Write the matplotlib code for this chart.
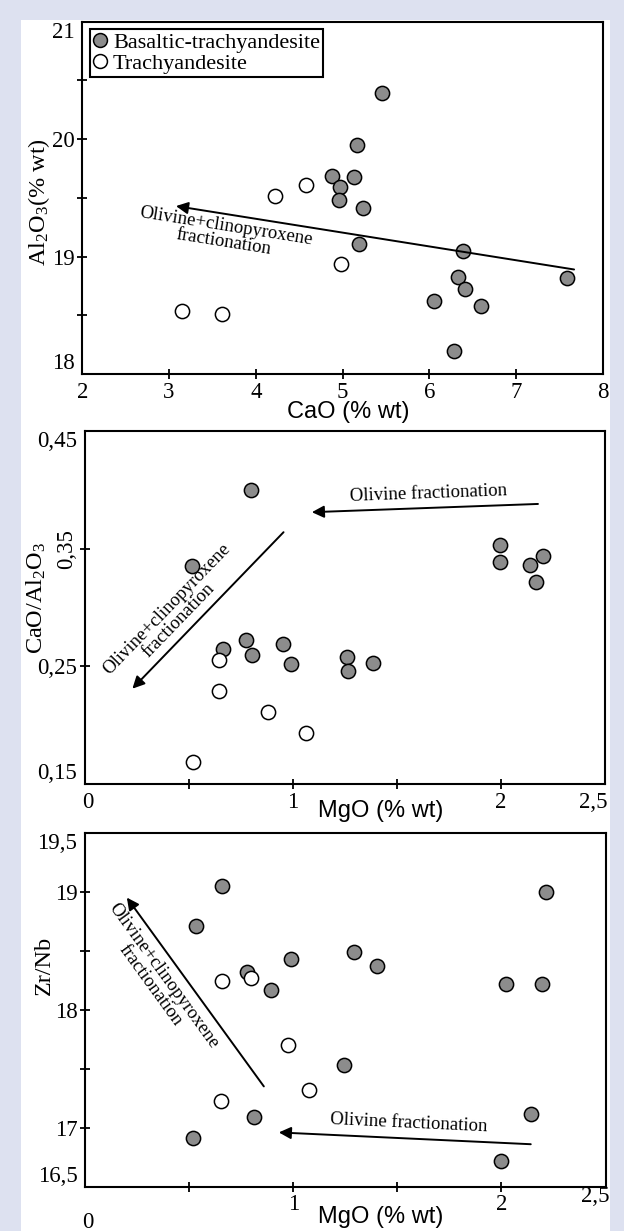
import numpy as np
import matplotlib
matplotlib.use("Agg")
import matplotlib.pyplot as plt
from matplotlib.patches import Rectangle
from matplotlib.lines import Line2D

plt.rcParams["font.family"] = ["Liberation Serif", "DejaVu Serif"]
plt.rcParams["mathtext.default"] = "regular"

# --- data ---
# CaO vs Al2O3
cao_basalt = [5.45, 5.17, 4.88, 5.13, 4.97, 4.96, 5.24, 5.19, 6.39, 6.33, 6.41, 6.06, 6.60, 6.29, 7.59]
al2o3_basalt = [20.39, 19.95, 19.69, 19.68, 19.59, 19.48, 19.41, 19.11, 19.05, 18.83, 18.72, 18.62, 18.58, 18.20, 18.82]
cao_trachy = [4.22, 4.58, 4.98, 3.15, 3.61]
al2o3_trachy = [19.52, 19.61, 18.94, 18.54, 18.51]

# MgO vs CaO/Al2O3
mgo_basalt_2 = [0.80, 0.515, 0.663, 0.774, 0.803, 0.954, 0.992, 1.259, 1.266, 1.387, 1.994, 1.998, 2.14, 2.20, 2.17]
ratio_basalt = [0.400, 0.335, 0.265, 0.272, 0.260, 0.269, 0.252, 0.258, 0.246, 0.253, 0.353, 0.339, 0.336, 0.344, 0.322]
mgo_trachy_2 = [0.644, 0.644, 0.883, 1.065, 0.521]
ratio_trachy = [0.255, 0.229, 0.211, 0.193, 0.169]

# MgO vs Zr/Nb
mgo_basalt_3 = [0.656, 0.533, 0.990, 1.291, 1.403, 0.776, 0.891, 1.245, 0.811, 0.520, 2.216, 2.021, 2.197, 2.141, 1.996]
zrnb_basalt = [19.05, 18.71, 18.43, 18.49, 18.37, 18.32, 18.17, 17.53, 17.09, 16.91, 19.00, 18.22, 18.22, 17.12, 16.72]
mgo_trachy_3 = [0.660, 0.799, 0.977, 1.076, 0.652]
zrnb_trachy = [18.24, 18.27, 17.70, 17.32, 17.23]

legend_labels = ["Basaltic-trachyandesite", "Trachyandesite"]
trend_ol_cpx = "Olivine+clinopyroxene\nfractionation"
trend_ol = "Olivine fractionation"

W, H = 624, 1231
GREY = "#8c8c8c"
TICK_FS = 16.5


def fx(px):
    return px / W


def fy(py):
    return 1 - py / H


fig = plt.figure(figsize=(W / 100, H / 100), dpi=100, facecolor="#dde1f0")
fig.patches.append(Rectangle((fx(21), 0), fx(610) - fx(21), fy(20), transform=fig.transFigure,
                             facecolor="white", edgecolor="none", zorder=-5))


def make_ax(left, top, right, bottom):
    ax = fig.add_axes([fx(left), fy(bottom), (right - left) / W, (bottom - top) / H])
    ax.set_facecolor("none")
    for s in ax.spines.values():
        s.set_linewidth(1.5)
    ax.tick_params(direction="inout", length=7, width=1.3, labelsize=TICK_FS, pad=2)
    return ax


def points(ax, xb, yb, xt, yt):
    ax.scatter(xb, yb, s=105, c=GREY, edgecolors="black", linewidths=1.1, zorder=3)
    ax.scatter(xt, yt, s=105, c="white", edgecolors="black", linewidths=1.1, zorder=3)


def trend(ax, tail, head, label, pos):
    ax.annotate("", xy=head, xytext=tail,
                arrowprops=dict(arrowstyle="-|>", color="black", lw=1.4,
                                mutation_scale=18, shrinkA=0, shrinkB=0))
    a = ax.transData.transform([head, tail])
    d = a[1] - a[0]
    rot = np.degrees(np.arctan2(d[1], d[0]))
    ax.text(pos[0], pos[1], label, rotation=rot, rotation_mode="anchor", ha="center", va="center",
            fontsize=13.5, linespacing=0.95, multialignment="center")


def fix_corners(ax, xfirst=True, xlast=True, yfirst=True, ylast=True):
    xt = ax.xaxis.get_major_ticks()
    yt = ax.yaxis.get_major_ticks()
    if xfirst:
        xt[0].tick1line.set_visible(False)
    if xlast:
        xt[-1].tick1line.set_visible(False)
    if yfirst:
        yt[0].tick1line.set_visible(False)
    if ylast:
        yt[-1].tick1line.set_visible(False)
    labs = ax.get_yticklabels()
    labs[0].set_va("bottom")
    labs[-1].set_va("top")


# ---- top: CaO vs Al2O3 ----
ax1 = make_ax(82.3, 21.7, 602.7, 374)
ax1.set_xlim(2, 8)
ax1.set_ylim(18, 21)
ax1.set_xticks(range(2, 9))
ax1.set_xticklabels([str(v) for v in range(2, 9)])
ax1.set_yticks(np.arange(18, 21.01, 0.5))
ax1.set_yticklabels(["18", "", "19", "", "20", "", "21"])
fix_corners(ax1)
points(ax1, cao_basalt, al2o3_basalt, cao_trachy, al2o3_trachy)
trend(ax1, (7.67, 18.89), (3.08, 19.43), trend_ol_cpx, (3.64, 19.19))
handles = [Line2D([], [], marker="o", ls="none", ms=10, mfc=GREY, mec="black", mew=1.1),
           Line2D([], [], marker="o", ls="none", ms=10, mfc="white", mec="black", mew=1.1)]
leg = ax1.legend(handles, legend_labels, loc="upper left", bbox_to_anchor=(0, 1), borderaxespad=0.33,
                 fancybox=False, framealpha=1, edgecolor="black", fontsize=16, handlelength=0.65,
                 handletextpad=0.25, labelspacing=0.02, borderpad=0.15)
leg.get_frame().set_linewidth(1.5)
fig.text(fx(39), fy(202), "Al$_2$O$_3$(% wt)", rotation=90, fontsize=17.5, ha="center", va="center")
fig.text(fx(348), fy(412), "CaO (% wt)", fontsize=17, family="Liberation Sans", ha="center", va="center")

# ---- middle: MgO vs CaO/Al2O3 ----
ax2 = make_ax(84.5, 431, 605, 784)
ax2.set_xlim(0, 2.5)
ax2.set_ylim(0.15, 0.45)
ax2.set_xticks([0.5, 1, 1.5, 2])
ax2.set_xticklabels(["", "1", "", "2"])
ax2.set_yticks([0.15, 0.25, 0.35, 0.45])
ax2.set_yticklabels(["0,15", "0,25", "0,35", "0,45"])
fix_corners(ax2, xfirst=False, xlast=False)
ax2.get_yticklabels()[2].set_rotation(90)
ax2.get_yticklabels()[2].set_va("center")
points(ax2, mgo_basalt_2, ratio_basalt, mgo_trachy_2, ratio_trachy)
trend(ax2, (2.178, 0.388), (1.092, 0.381), trend_ol, (1.65, 0.397))
trend(ax2, (0.956, 0.364), (0.230, 0.231), trend_ol_cpx, (0.423, 0.2936))
fig.text(fx(88), fy(802), "0", fontsize=TICK_FS, ha="center", va="center")
fig.text(fx(607), fy(803), "2,5", fontsize=TICK_FS, ha="right", va="center")
fig.text(fx(36), fy(598), "CaO/Al$_2$O$_3$", rotation=90, fontsize=17.5, ha="center", va="center")
fig.text(fx(381), fy(811), "MgO (% wt)", fontsize=17, family="Liberation Sans", ha="center", va="center")

# ---- bottom: MgO vs Zr/Nb ----
ax3 = make_ax(85, 832.7, 605.5, 1186.7)
ax3.set_xlim(0, 2.5)
ax3.set_ylim(16.5, 19.5)
ax3.set_xticks([0.5, 1, 1.5, 2])
ax3.set_xticklabels(["", "1", "", "2"])
ax3.set_yticks(np.arange(16.5, 19.51, 0.5))
ax3.set_yticklabels(["16,5", "17", "", "18", "", "19", "19,5"])
fix_corners(ax3, xfirst=False, xlast=False)
points(ax3, mgo_basalt_3, zrnb_basalt, mgo_trachy_3, zrnb_trachy)
trend(ax3, (0.859, 17.35), (0.201, 18.95), trend_ol_cpx, (0.345, 18.25))
trend(ax3, (2.141, 16.86), (0.931, 16.96), trend_ol, (1.553, 17.04))
fig.text(fx(88), fy(1222), "0", fontsize=TICK_FS, ha="center", va="center")
fig.text(fx(610), fy(1197), "2,5", fontsize=TICK_FS, ha="right", va="center")
fig.text(fx(44), fy(965), "Zr/Nb", rotation=90, fontsize=17.5, ha="center", va="center")
fig.text(fx(381), fy(1217), "MgO (% wt)", fontsize=17, family="Liberation Sans", ha="center", va="center")

fig.savefig("out.png", dpi=100, facecolor=fig.get_facecolor())
